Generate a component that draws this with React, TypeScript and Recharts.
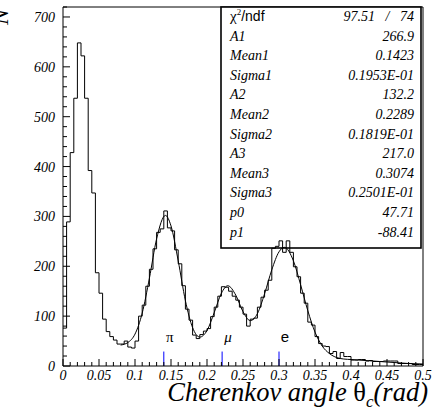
import React from 'react';
import { ComposedChart, Line, XAxis, YAxis, ReferenceLine, ReferenceDot } from 'recharts';

// histogram: 100 bins of 0.005 rad from 0 to 0.5
const binWidth = 0.005;
const binCounts = [
  76, 289, 428, 537, 648, 622, 537, 392, 347, 187,
  146, 94, 69, 59, 52, 44, 44, 50, 38, 36,
  50, 100, 122, 160, 194, 235, 268, 275, 311, 277,
  271, 233, 205, 161, 114, 92, 62, 55, 63, 70,
  75, 99, 118, 140, 159, 158, 150, 140, 132, 118,
  104, 80, 94, 96, 118, 138, 152, 172, 236, 240,
  251, 228, 251, 228, 199, 179, 146, 126, 88, 82,
  59, 45, 40, 39, 25, 29, 15, 27, 19, 19,
  12, 12, 13, 13, 10, 11, 9, 9, 9, 10,
  10, 10, 10, 5, 5, 5, 5, 3, 3, 3,
];

// fit curve
const fitX = [0.08, 0.09, 0.1, 0.11, 0.12, 0.13, 0.1423, 0.15, 0.16, 0.17, 0.18, 0.19, 0.2, 0.21, 0.22, 0.2289, 0.24, 0.25, 0.26, 0.27, 0.28, 0.29, 0.3, 0.3074, 0.32, 0.33, 0.34, 0.35, 0.36, 0.37, 0.38, 0.39, 0.4, 0.42, 0.44, 0.46, 0.48, 0.5];
const fitY = [42, 47, 64, 106, 176, 255, 302, 281, 211, 131, 77, 58, 71, 107, 146, 161, 142, 109, 91, 105, 145, 193, 229, 238, 211, 163, 111, 68, 40, 25, 17, 14, 13, 11, 9, 7, 5, 4];

// particle markers
const markerNames = ['π', 'μ', 'e'];
const markerX = [0.14, 0.221, 0.3];

// stats box
const statNames = ['A1', 'Mean1', 'Sigma1', 'A2', 'Mean2', 'Sigma2', 'A3', 'Mean3', 'Sigma3', 'p0', 'p1'];
const statValues = ['266.9', '0.1423', '0.1953E-01', '132.2', '0.2289', '0.1819E-01', '217.0', '0.3074', '0.2501E-01', '47.71', '-88.41'];

const xTicks = Array.from({ length: 51 }, (_, i) => i / 100);
const yTicks = Array.from({ length: 37 }, (_, i) => i * 20);

const histData = binCounts.map((c, i) => ({ x: i * binWidth, y: c }));
histData.push({ x: 0.5, y: binCounts[binCounts.length - 1] });
const fitData = fitX.map((x, i) => ({ x, y: fitY[i] }));

const SERIF = '"Liberation Serif", "Times New Roman", serif';
const SANS = '"Liberation Sans", Arial, sans-serif';
const italic = { fontFamily: SERIF, fontStyle: 'italic' as const };

const XTick = (props: any) => {
  const { x, y, payload } = props;
  const v = payload.value;
  const major = Math.round(v * 100) % 5 === 0;
  return (
    <g>
      <line x1={x} x2={x} y1={y} y2={y - (major ? 7 : 4)} stroke="#000" strokeWidth={1} />
      {major && (
        <text x={x} y={y + 14} textAnchor="middle" style={{ ...italic, fontSize: 14 }} fill="#000">
          {String(v)}
        </text>
      )}
    </g>
  );
};

const YTick = (props: any) => {
  const { x, y, payload } = props;
  const v = payload.value;
  const major = v % 100 === 0;
  return (
    <g>
      <line x1={x} x2={x + (major ? 7 : 4)} y1={y} y2={y} stroke="#000" strokeWidth={1} />
      {major && (
        <text x={x - 8} y={y + 5} textAnchor="end" style={{ ...italic, fontSize: 14 }} fill="#000">
          {v}
        </text>
      )}
    </g>
  );
};

const MarkerLabel = (name: string) => (props: any) => (
  <text
    x={props.cx + 6}
    y={props.cy + 5}
    textAnchor="middle"
    style={{ fontFamily: name === 'e' ? SANS : SERIF, fontStyle: name === 'μ' ? 'italic' : 'normal', fontSize: 15 }}
    fill="#000"
  >
    {name}
  </text>
);

export default function App() {
  const W = 432;
  const H = 409;
  return (
    <div style={{ position: 'absolute', left: 0, top: 0, width: W, height: H, background: '#fff' }}>
      <svg width={W} height={H} style={{ position: 'absolute', left: 0, top: 0 }}>
        {/* frame top / right */}
        <line x1={63} x2={423} y1={7} y2={7} stroke="#000" strokeWidth={1} />
        <line x1={423} x2={423} y1={7} y2={366} stroke="#000" strokeWidth={1} />
        {/* stats box */}
        <rect x={221} y={7} width={200} height={241} fill="#fff" stroke="#000" strokeWidth={1.6} />
        <text x={230} y={21} style={{ fontFamily: SERIF, fontSize: 15 }} fill="#000">
          χ<tspan style={{ fontSize: 9 }} dy={-6}>2</tspan>
          <tspan dy={6} style={{ fontFamily: SANS, fontSize: 14 }}>/ndf</tspan>
        </text>
        <text x={414} y={21} textAnchor="end" style={{ ...italic, fontSize: 14, whiteSpace: 'pre' }} fill="#000">
          {'97.51   /   74'}
        </text>
        {statNames.map((n, i) => (
          <g key={n}>
            <text x={230} y={40.6 + 19.6 * i} style={{ ...italic, fontSize: 14 }} fill="#000">
              {n}
            </text>
            <text x={414} y={40.6 + 19.6 * i} textAnchor="end" style={{ ...italic, fontSize: 14 }} fill="#000">
              {statValues[i]}
            </text>
          </g>
        ))}
        {/* axis titles */}
        <text x={428} y={401} textAnchor="end" style={{ ...italic, fontSize: 26.5 }} fill="#000">
          Cherenkov angle <tspan style={{ fontStyle: 'normal' }}>θ</tspan>
          <tspan style={{ fontSize: 17 }} dy={6}>c</tspan>
          <tspan dy={-6}>(rad)</tspan>
        </text>
        <text x={8} y={17} transform="rotate(-90 8 17)" textAnchor="middle" style={{ ...italic, fontSize: 24 }} fill="#000">
          N
        </text>
      </svg>
      <div style={{ position: 'absolute', left: 0, top: 0 }}>
        <ComposedChart width={W} height={H} margin={{ top: 7, right: 9, left: 0, bottom: 0 }}>
          <XAxis
            dataKey="x"
            type="number"
            domain={[0, 0.5]}
            ticks={xTicks}
            interval={0}
            tick={<XTick />}
            tickLine={false}
            tickSize={0}
            tickMargin={0}
            height={43}
            axisLine={{ stroke: '#000', strokeWidth: 1 }}
            allowDataOverflow
          />
          <YAxis
            type="number"
            domain={[0, 720]}
            ticks={yTicks}
            interval={0}
            tick={<YTick />}
            tickLine={false}
            tickSize={0}
            tickMargin={0}
            width={63}
            axisLine={{ stroke: '#000', strokeWidth: 1 }}
            allowDataOverflow
          />
          {markerX.map((mx, i) => (
            <ReferenceLine key={'l' + i} segment={[{ x: mx, y: 0 }, { x: mx, y: 29 }]} stroke="#0000ff" strokeWidth={1} />
          ))}
          {markerX.map((mx, i) => (
            <ReferenceDot key={'d' + i} x={mx} y={59} r={0} shape={MarkerLabel(markerNames[i])} />
          ))}
          <Line data={histData} dataKey="y" type="stepAfter" stroke="#000" strokeWidth={1} dot={false} isAnimationActive={false} />
          <Line data={fitData} dataKey="y" type="monotone" stroke="#000" strokeWidth={1} dot={false} isAnimationActive={false} />
        </ComposedChart>
      </div>
    </div>
  );
}
